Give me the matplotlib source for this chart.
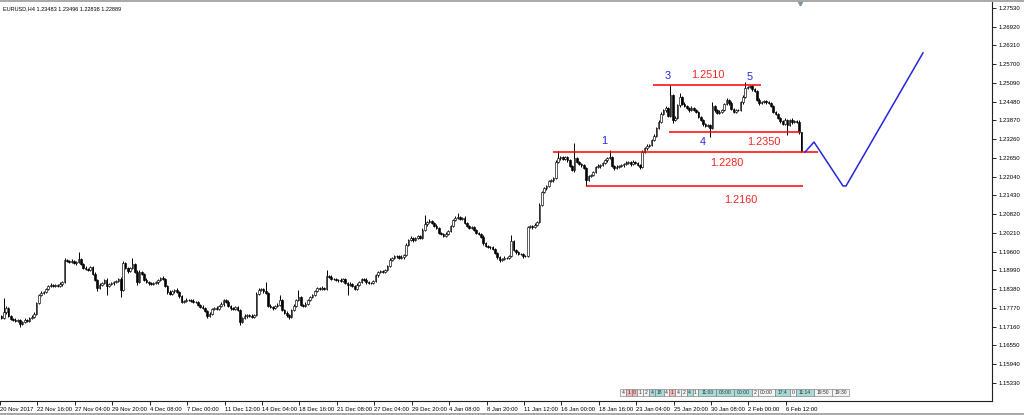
import numpy as np
import matplotlib.pyplot as plt
from matplotlib.lines import Line2D
from matplotlib.patches import Rectangle

plt.rcParams['font.family'] = ['Liberation Sans', 'DejaVu Sans']

# ── EURUSD H4 closes (price x 10000), 20 Nov 2017 -> 7 Feb 2018 ──
closes = [
    11744, 11764, 11777, 11751, 11741, 11738, 11735, 11738, 11725, 11731, 11738, 11735, 11744, 11748, 11758, 11793, 11819, 11826, 11829, 11839,
    11849, 11852, 11849, 11852, 11849, 11855, 11861, 11933, 11930, 11927, 11930, 11923, 11927, 11936, 11920, 11907, 11904, 11901, 11910, 11888,
    11868, 11842, 11852, 11858, 11868, 11849, 11855, 11858, 11861, 11865, 11871, 11836, 11923, 11907, 11897, 11907, 11920, 11894, 11861, 11894,
    11888, 11868, 11861, 11858, 11855, 11858, 11861, 11868, 11875, 11871, 11849, 11829, 11823, 11832, 11836, 11829, 11816, 11797, 11800, 11803,
    11803, 11800, 11797, 11797, 11787, 11780, 11777, 11767, 11751, 11758, 11774, 11777, 11774, 11784, 11790, 11803, 11797, 11784, 11777, 11774,
    11780, 11771, 11731, 11744, 11751, 11754, 11751, 11748, 11754, 11823, 11836, 11839, 11832, 11826, 11784, 11780, 11777, 11784, 11787, 11803,
    11771, 11761, 11754, 11748, 11771, 11784, 11803, 11813, 11787, 11784, 11790, 11803, 11813, 11819, 11832, 11842, 11839, 11842, 11839, 11881,
    11878, 11871, 11871, 11868, 11868, 11865, 11871, 11858, 11852, 11855, 11849, 11839, 11852, 11861, 11871, 11868, 11861, 11858, 11858, 11865,
    11884, 11894, 11897, 11894, 11901, 11914, 11933, 11940, 11946, 11946, 11940, 11943, 11949, 11982, 11998, 12005, 11998, 12005, 12011, 12005,
    12031, 12050, 12057, 12060, 12053, 12044, 12037, 12021, 12018, 12011, 12018, 12027, 12044, 12063, 12070, 12073, 12067, 12070, 12053, 12044,
    12037, 12040, 12031, 12021, 12018, 12008, 11988, 11979, 11975, 11975, 11969, 11956, 11943, 11933, 11936, 11940, 11940, 11946, 11995, 11966,
    11959, 11953, 11953, 11946, 11946, 12040, 12044, 12040, 12047, 12057, 12112, 12154, 12167, 12174, 12190, 12193, 12200, 12252, 12265, 12268,
    12262, 12268, 12258, 12239, 12226, 12265, 12252, 12245, 12242, 12232, 12193, 12206, 12210, 12219, 12236, 12239, 12242, 12249, 12258, 12265,
    12268, 12239, 12232, 12236, 12239, 12242, 12245, 12249, 12252, 12245, 12252, 12249, 12242, 12236, 12284, 12297, 12304, 12307, 12324, 12337,
    12363, 12382, 12408, 12421, 12428, 12402, 12470, 12389, 12395, 12437, 12463, 12441, 12434, 12428, 12421, 12428, 12421, 12415, 12398, 12389,
    12375, 12369, 12372, 12363, 12434, 12421, 12411, 12415, 12421, 12441, 12454, 12444, 12424, 12415, 12421, 12421, 12447, 12463, 12493, 12496,
    12499, 12489, 12483, 12454, 12444, 12447, 12450, 12447, 12444, 12434, 12415, 12408, 12395, 12385, 12375, 12389, 12372, 12389, 12382, 12385,
    12382, 12348, 12289,
]
first_open = 11750

# upper / lower wick lengths in pips
wick_up = [
    4, 44, 5, 3, 4, 3, 5, 4, 3, 4, 5, 3, 4, 6, 5, 4, 3, 5, 4, 3,
    4, 5, 3, 4, 3, 5, 4, 6, 4, 3, 5, 4, 3, 23, 4, 3, 5, 4, 3, 4,
    5, 4, 6, 3, 4, 5, 3, 4, 5, 3, 4, 6, 8, 5, 4, 3, 20, 4, 5, 6,
    4, 3, 5, 4, 3, 4, 5, 3, 4, 6, 3, 4, 5, 3, 4, 5, 3, 4, 3, 5,
    4, 3, 5, 4, 3, 4, 6, 3, 4, 5, 4, 3, 5, 4, 6, 4, 3, 5, 4, 3,
    5, 4, 3, 4, 5, 3, 4, 5, 3, 6, 5, 4, 3, 29, 4, 5, 3, 4, 5, 16,
    4, 3, 5, 4, 3, 5, 4, 23, 4, 3, 5, 4, 3, 4, 5, 3, 4, 5, 3, 20,
    4, 5, 3, 4, 3, 5, 4, 3, 4, 5, 3, 4, 5, 3, 4, 3, 5, 4, 3, 4,
    5, 4, 3, 5, 4, 3, 6, 4, 5, 3, 4, 5, 3, 6, 4, 5, 3, 4, 5, 4,
    5, 30, 4, 5, 3, 4, 5, 3, 4, 3, 5, 4, 3, 4, 5, 13, 4, 3, 5, 4,
    3, 4, 5, 3, 4, 3, 5, 4, 3, 4, 5, 3, 4, 3, 4, 5, 3, 4, 19, 4,
    3, 5, 4, 3, 4, 5, 4, 3, 5, 4, 6, 4, 5, 3, 4, 5, 4, 6, 23, 4,
    5, 4, 3, 5, 4, 50, 4, 3, 5, 4, 3, 5, 4, 3, 4, 5, 3, 4, 5, 4,
    23, 4, 3, 5, 4, 3, 4, 5, 3, 4, 5, 4, 3, 4, 6, 4, 5, 3, 4, 5,
    4, 5, 6, 4, 5, 3, 32, 4, 5, 4, 13, 3, 5, 4, 3, 5, 4, 3, 4, 5,
    4, 3, 5, 4, 13, 4, 3, 5, 4, 3, 6, 4, 5, 3, 4, 5, 4, 6, 19, 4,
    5, 4, 3, 4, 5, 3, 4, 3, 5, 4, 3, 4, 5, 3, 4, 6, 4, 3, 5, 4,
    4, 5, 2,
]
wick_dn = [
    4, 3, 5, 4, 3, 4, 5, 3, 10, 4, 3, 5, 4, 3, 4, 5, 3, 4, 5, 3,
    4, 3, 5, 4, 3, 4, 5, 3, 4, 5, 3, 4, 5, 3, 4, 3, 5, 4, 3, 4,
    3, 10, 4, 5, 3, 30, 4, 3, 5, 4, 3, 23, 4, 3, 5, 4, 3, 4, 8, 4,
    5, 3, 4, 5, 3, 4, 3, 5, 4, 3, 4, 5, 3, 4, 5, 3, 6, 4, 3, 5,
    4, 5, 3, 4, 5, 3, 4, 3, 5, 4, 3, 4, 5, 3, 4, 5, 3, 4, 5, 3,
    4, 5, 9, 3, 4, 5, 3, 4, 5, 3, 4, 3, 5, 4, 3, 4, 5, 3, 4, 5,
    3, 4, 5, 6, 3, 4, 5, 3, 4, 5, 3, 4, 3, 5, 4, 3, 4, 5, 3, 4,
    5, 3, 4, 3, 5, 4, 3, 4, 33, 4, 5, 3, 4, 5, 3, 4, 5, 3, 4, 3,
    4, 5, 3, 4, 3, 5, 4, 3, 4, 5, 3, 4, 5, 3, 4, 3, 5, 4, 3, 4,
    3, 4, 5, 3, 4, 5, 3, 4, 5, 3, 4, 5, 3, 4, 3, 5, 4, 3, 4, 5,
    4, 3, 5, 4, 3, 4, 5, 3, 4, 5, 3, 4, 5, 8, 4, 3, 5, 4, 3, 4,
    5, 3, 4, 5, 4, 3, 4, 5, 3, 4, 5, 3, 4, 5, 3, 4, 5, 3, 4, 5,
    3, 4, 5, 3, 4, 5, 4, 3, 5, 4, 19, 3, 4, 5, 3, 4, 5, 3, 4, 5,
    4, 3, 5, 4, 3, 4, 5, 3, 4, 5, 4, 3, 4, 8, 3, 4, 5, 3, 4, 5,
    4, 5, 3, 4, 5, 3, 4, 10, 4, 3, 5, 4, 3, 4, 5, 3, 4, 5, 3, 4,
    5, 3, 4, 30, 4, 5, 3, 4, 5, 3, 4, 5, 3, 4, 5, 4, 3, 5, 4, 3,
    4, 5, 3, 4, 5, 3, 4, 5, 3, 4, 5, 3, 4, 5, 3, 4, 32, 4, 5, 3,
    4, 5, 5,
]

date_labels = [
    "20 Nov 2017", "22 Nov 16:00", "27 Nov 04:00", "29 Nov 20:00", "4 Dec 08:00", "7 Dec 00:00",
    "11 Dec 12:00", "14 Dec 04:00", "18 Dec 16:00", "21 Dec 08:00", "27 Dec 04:00", "29 Dec 20:00",
    "4 Jan 08:00", "8 Jan 20:00", "11 Jan 12:00", "16 Jan 00:00", "18 Jan 16:00", "23 Jan 04:00",
    "25 Jan 20:00", "30 Jan 08:00", "2 Feb 00:00", "6 Feb 12:00",
]
bars_per_label = 16

# horizontal levels: price, first bar, last bar, text
level_price = [1.2503, 1.2350, 1.2284, 1.2174]
level_from = [278.6, 285.5, 235.9, 250.0]
level_to = [324.8, 341.5, 349.1, 342.7]
level_text = ["1.2510", "1.2350", "1.2280", "1.2160"]

wave_text = ["1", "3", "4", "5"]
wave_bar = [257.7, 285.0, 300.0, 319.7]
wave_price = [1.2320, 1.2532, 1.2317, 1.2529]

# projected path
proj_bar = [343.6, 347.4, 359.8, 361.1, 394.0]
proj_price = [1.22845, 1.2317, 1.2174, 1.2174, 1.2607]

price_ticks = [1.15330 + 0.0061 * k for k in range(21)]

strip = [("4", "w"), ("1", "p"), ("0", "p"), ("1", "w"), ("2", "w"), ("4", "t"), ("18", "t"),
         ("4", "w"), ("1", "p"), ("4", "w"), ("2", "w"), ("4", "t"), ("1", "w"), ("11:00", "t"),
         ("08:00", "t"), ("00:00", "t"), ("2", "w"), ("00:00", "w"), ("17:4", "t"), ("0", "w"),
         ("11:14", "t"), ("19:50", "w"), ("19:30", "w")]

# ── figure ────────────────────────────────────────────────────
W, H = 1024, 415
fig = plt.figure(figsize=(W / 100, H / 100), dpi=100)
ax = fig.add_axes([0, 14 / H, 992 / W, 399 / H])

close = np.array(closes) / 1e4
open_ = np.r_[first_open / 1e4, close[:-1]]
high = np.maximum(open_, close) + np.array(wick_up) / 1e4
low = np.minimum(open_, close) - np.array(wick_dn) / 1e4
idx = np.arange(len(close))

ax.vlines(idx, low, high, color="black", lw=0.7, zorder=2)
bull = close >= open_
ax.bar(idx[bull], (close - open_)[bull], bottom=open_[bull], width=0.7,
       color="white", edgecolor="black", lw=0.45, zorder=3)
ax.bar(idx[~bull], (open_ - close)[~bull], bottom=close[~bull], width=0.7,
       color="black", edgecolor="black", lw=0.45, zorder=3)

ax.hlines(level_price, level_from, level_to, colors="#ff0000", lw=1.1, zorder=4)
offsets = [7, -7, -8, -10]
centers = [302.1, 326.1, 310.3, 316.2]
for txt, cx, p, off in zip(level_text, centers, level_price, offsets):
    ax.annotate(txt, (cx, p), xytext=(0, off), textcoords="offset points",
                ha="center", va="center", fontsize=7.8, color="#f52424", zorder=5)

for txt, b, p in zip(wave_text, wave_bar, wave_price):
    ax.text(b, p, txt, ha="center", va="center", fontsize=7.8, color="#2626e0", zorder=5)

ax.plot(proj_bar, proj_price, color="#2525e0", lw=1.1, zorder=4)

# chart-shift marker
ax.plot([(800 - 1) / 2.34], [1.2770], marker="v", ms=3.5, color="#7f8fa6",
        clip_on=False, zorder=6)

ax.set_xlim((0 - 1) / 2.34, (992 - 1) / 2.34)
ax.set_ylim(1.14744, 1.27725)

ax.yaxis.tick_right()
ax.set_yticks(price_ticks)
ax.set_yticklabels([f"{v:.5f}" for v in price_ticks])
ax.tick_params(axis="y", direction="out", length=3, width=0.6, pad=1.5,
               labelsize=4.3, colors="black")

xt = [k * bars_per_label - 0.6 for k in range(len(date_labels))]
ax.set_xticks(xt)
ax.set_xticklabels(date_labels, ha="left")
ax.tick_params(axis="x", direction="out", length=3, width=0.6, pad=1,
               labelsize=4.2, colors="black")

for s in ["left", "top"]:
    ax.spines[s].set_visible(False)
for s in ["right", "bottom"]:
    ax.spines[s].set_linewidth(0.8)
    ax.spines[s].set_color("#202020")

fig.text(3 / W, 1 - 9 / H, "EURUSD,H4 1.23483 1.23496 1.22838 1.22889",
         fontsize=4.0, va="center", ha="left")

# window frame lines
fig.add_artist(Line2D([0, 1], [1 - 0.8 / H] * 2, color="#a8a8a8", lw=1.4,
                      transform=fig.transFigure))
fig.add_artist(Line2D([0, 1], [1.2 / H] * 2, color="#a8a8a8", lw=1.4,
                      transform=fig.transFigure))

# bottom object labels strip
fills = {"w": "#f4f4f4", "p": "#f2b8b8", "t": "#a6dcd8"}
px = 620
for txt, c in strip:
    w = 2.8 + 3.0 * len(txt)
    fig.add_artist(Rectangle((px / W, 1 - 396 / H), w / W, 7 / H, transform=fig.transFigure,
                             facecolor=fills[c], edgecolor="#707070", lw=0.4))
    fig.text((px + w / 2) / W, 1 - 392.5 / H, txt, fontsize=3.6, ha="center", va="center",
             color="#303030")
    px += w

fig.savefig("out.png", dpi=100, facecolor="white")
